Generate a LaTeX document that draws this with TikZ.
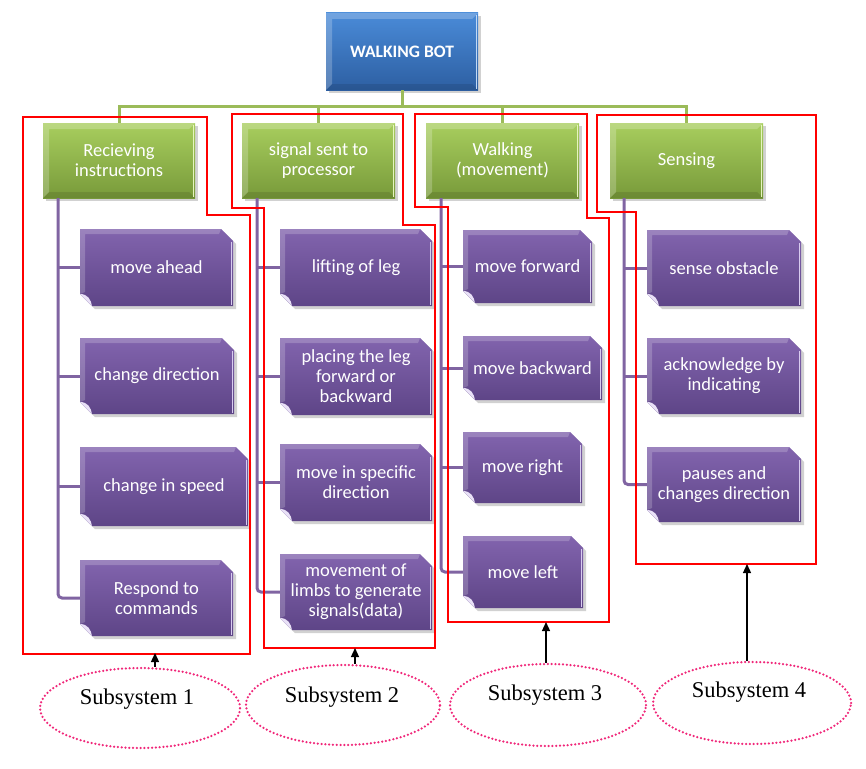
\documentclass[tikz,border=0pt]{standalone}
\usepackage{fontspec}
\newfontfamily\carl{Carlito}
\newfontfamily\lserif{Liberation Serif}
\usetikzlibrary{arrows.meta,shapes.geometric}
\definecolor{pTop}{HTML}{8264AE}
\definecolor{pBot}{HTML}{5E4587}
\definecolor{pLight}{HTML}{D9CCF0}
\definecolor{pFold}{HTML}{E9E1F7}
\definecolor{gTop}{HTML}{A8CE5E}
\definecolor{gBot}{HTML}{789A3A}
\definecolor{gLight}{HTML}{E6F5BE}
\definecolor{gLine}{HTML}{9BBB59}
\definecolor{pLine}{HTML}{8064A2}
\definecolor{bTop}{HTML}{4A8BD8}
\definecolor{bBot}{HTML}{2D5FA2}
\definecolor{bLight}{HTML}{BFD8F5}
\definecolor{ePink}{HTML}{F0287A}
\tikzset{
  ptext/.style={text=white, font=\carl\fontsize{18.5}{20}\selectfont, align=center, inner sep=0pt},
  ttext/.style={text=white, font=\carl\bfseries\fontsize{17.5}{20}\selectfont, align=center, inner sep=0pt},
  gline/.style={gLine, line width=3pt},
  pline/.style={pLine, line width=3pt},
  redline/.style={red, line width=2.3pt, line join=miter},
  subell/.style={ellipse, draw=ePink, line width=2.5pt, dash pattern=on 0pt off 3.8pt, line cap=round, inner sep=0pt},
  subtext/.style={font=\lserif\fontsize{22.5}{24}\selectfont, inner sep=0pt},
  upar/.style={black, line width=1.3pt, -{Triangle[width=8pt,length=9pt]}},
}
% purple box with cut corners: name, x0, y0, x1, y1, text
\newcommand\pbox[6]{%
  \fill[black,opacity=0.18] (#2+3,#3+3) -- (#4-9,#3+3) -- (#4+3,#3+15) -- (#4+3,#5+3) -- (#2+15,#5+3) -- (#2+3,#5-9) -- cycle;
  \shade[top color=pTop,bottom color=pBot] (#2,#3) -- (#4-12,#3) -- (#4,#3+12) -- (#4,#5) -- (#2+12,#5) -- (#2,#5-12) -- cycle;
  \fill[white,opacity=0.2] (#2,#3) -- (#4-12,#3) -- (#4-14,#3+5) -- (#2+5,#3+5) -- (#2+5,#5-14) -- (#2,#5-12) -- cycle;
  \draw[pLight,line width=1.5pt] (#4-1.5,#3+13) -- (#4-1.5,#5-1);
  \fill[pFold] (#2,#5-12) .. controls (#2+8,#5-12) and (#2+11,#5-6) .. (#2+12,#5) -- cycle;
  \node[ptext, minimum width={#4-#2}, minimum height={#5-#3}] (#1) at ({(#2+#4)/2},{(#3+#5)/2}) {#6};
}
% rectangular bevelled box: name, x0, y0, x1, y1, top, bottom, light, text
\newcommand\rbox[9]{%
  \fill[black,opacity=0.18] (#2+3,#3+3) rectangle (#4+3,#5+3);
  \shade[top color=#6,bottom color=#7] (#2,#3) rectangle (#4,#5);
  \fill[white,opacity=0.22] (#2,#3) -- (#4,#3) -- (#4-6,#3+6) -- (#2+6,#3+6) -- (#2+6,#5-6) -- (#2,#5) -- cycle;
  \fill[black,opacity=0.10] (#2,#5) -- (#4,#5) -- (#4-6,#5-6) -- (#2+6,#5-6) -- cycle;
  \draw[#8,line width=1.5pt] (#4-1.5,#3+2) -- (#4-1.5,#5-1);
  \node[ptext, minimum width={#4-#2}, minimum height={#5-#3}] (#1) at ({(#2+#4)/2},{(#3+#5)/2}) {#9};
}
\begin{document}
\begin{tikzpicture}[x=1pt,y=-1pt]
\useasboundingbox (0,0) rectangle (866,768);
% top box
\fill[black,opacity=0.18] (329,16) rectangle (481,93);
\shade[top color=bTop,bottom color=bBot] (326,13) rectangle (478,90);
\fill[white,opacity=0.22] (326,13) -- (478,13) -- (472,19) -- (332,19) -- (332,84) -- (326,90) -- cycle;
\fill[black,opacity=0.10] (326,90) -- (478,90) -- (472,84) -- (332,84) -- cycle;
\draw[bLight,line width=1.5pt] (476.5,15) -- (476.5,89);
\node[ttext, minimum width=152pt, minimum height=77pt] (top) at (402,51.5) {WALKING BOT};
% green boxes
\rbox{g1}{43}{123}{195}{198}{gTop}{gBot}{gLight}{Recieving\\instructions}
\rbox{g2}{242}{123}{395}{198}{gTop}{gBot}{gLight}{signal sent to\\processor}
\rbox{g3}{426}{123}{579}{198}{gTop}{gBot}{gLight}{Walking\\(movement)}
\rbox{g4}{610}{123}{763}{198}{gTop}{gBot}{gLight}{Sensing}
% green connectors
\coordinate (bus) at (0,106);
\draw[gline] (top.south) -- (top.south |- bus);
\draw[gline] (g1.north) -- (g1.north |- bus) -- (g4.north |- bus) -- (g4.north);
\draw[gline] (g2.north) -- (g2.north |- bus);
\draw[gline] (g3.north) -- (g3.north |- bus);
% purple boxes
\pbox{b11}{80}{229}{233}{306}{move ahead}
\pbox{b12}{80}{338}{234}{414}{change direction}
\pbox{b13}{80}{447}{248}{526}{change in speed}
\pbox{b14}{80}{560}{233}{636}{Respond to\\commands}
\pbox{b21}{280}{229}{432}{306}{lifting of leg}
\pbox{b22}{280}{338}{432}{415}{placing the leg\\forward or\\backward}
\pbox{b23}{280}{444}{432}{521}{move in specific\\direction}
\pbox{b24}{280}{554}{432}{630}{movement of\\limbs to generate\\signals(data)}
\pbox{b31}{463}{230}{592}{303}{move forward}
\pbox{b32}{463}{336}{602}{400}{move backward}
\pbox{b33}{463}{432}{582}{503}{move right}
\pbox{b34}{463}{536}{583}{608}{move left}
\pbox{b41}{647}{230}{801}{306}{sense obstacle}
\pbox{b42}{647}{338}{801}{414}{acknowledge by\\indicating}
\pbox{b43}{647}{447}{801}{522}{pauses and\\changes direction}
% purple connectors
\coordinate (sp1) at (58,0);
\coordinate (sp2) at (257,0);
\coordinate (sp3) at (441,0);
\coordinate (sp4) at (624,0);
\draw[pline, rounded corners=4pt] (g1.south -| sp1) |- (b14.west);
\foreach \b in {b11,b12,b13} \draw[pline] (\b.west -| sp1) -- (\b.west);
\draw[pline, rounded corners=4pt] (g2.south -| sp2) |- (b24.west);
\foreach \b in {b21,b22,b23} \draw[pline] (\b.west -| sp2) -- (\b.west);
\draw[pline, rounded corners=4pt] (g3.south -| sp3) |- (b34.west);
\foreach \b in {b31,b32,b33} \draw[pline] (\b.west -| sp3) -- (\b.west);
\draw[pline, rounded corners=4pt] (g4.south -| sp4) |- (b43.west);
\foreach \b in {b41,b42} \draw[pline] (\b.west -| sp4) -- (\b.west);
% red outlines
\draw[redline] (23,117) -- (207,117) -- (207,215) -- (250,215) -- (250,654) -- (23,654) -- cycle;
\draw[redline] (232,114) -- (403,114) -- (403,225) -- (435,225) -- (435,648) -- (264,648) -- (264,208) -- (232,208) -- cycle;
\draw[redline] (415,114) -- (587,114) -- (587,218) -- (609,218) -- (609,622) -- (448,622) -- (448,207) -- (415,207) -- cycle;
\draw[redline] (597,115) -- (816,115) -- (816,564) -- (636,564) -- (636,212) -- (597,212) -- cycle;
% subsystems
\node[subell, minimum width=200pt, minimum height=80pt] (s1) at (140,708) {};
\node[subell, minimum width=194pt, minimum height=80pt] (s2) at (343,705) {};
\node[subell, minimum width=196pt, minimum height=82pt] (s3) at (548,705) {};
\node[subell, minimum width=198pt, minimum height=82pt] (s4) at (752,703) {};
\node[subtext] (t1) at (137,699) {Subsystem 1};
\node[subtext] (t2) at (342,697) {Subsystem 2};
\node[subtext] (t3) at (545,695) {Subsystem 3};
\node[subtext] (t4) at (749,692) {Subsystem 4};
% arrows
\coordinate (r1) at (155,653);
\coordinate (r2) at (355,648);
\coordinate (r3) at (546,622);
\coordinate (r4) at (747,564);
\draw[upar] (s1.north -| r1) -- (r1);
\draw[upar] (s2.north -| r2) -- (r2);
\draw[upar] (s3.north -| r3) -- (r3);
\draw[upar] (s4.north -| r4) -- (r4);
\end{tikzpicture}
\end{document}
